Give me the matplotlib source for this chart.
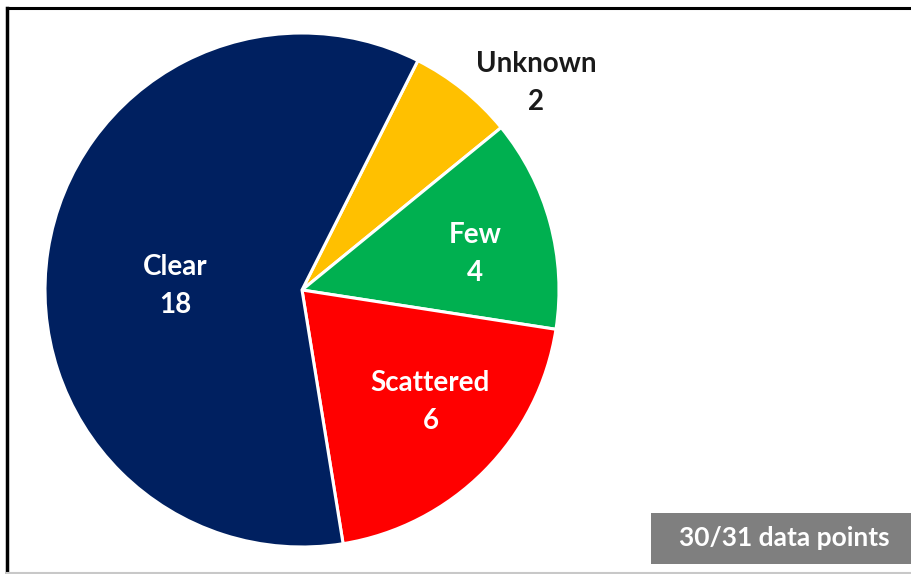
import numpy as np
import matplotlib
matplotlib.use('Agg')
import matplotlib.pyplot as plt
from matplotlib.patches import Rectangle
from matplotlib.lines import Line2D

plt.rcParams['font.family'] = ['Lato', 'DejaVu Sans']

# sky condition counts
categories = ['Unknown', 'Few', 'Scattered', 'Clear']
counts = [2, 4, 6, 18]
colors = ['#ffc000', '#00b050', '#ff0000', '#002060']
text_colors = ['#1a1a1a', 'white', 'white', 'white']
label_radius = [1.22, 0.69, 0.66, 0.495]
label_shift = [-9.5, -3, 4, 6.5]  # degrees, nudges each label off the wedge middle

fig = plt.figure(figsize=(9.12, 5.74), dpi=100)
ax = fig.add_axes([45 / 912, 27 / 574, 514 / 912, 514 / 574])

wedges, _ = ax.pie(counts, colors=colors, startangle=63.2, counterclock=False,
                   radius=1.0, wedgeprops=dict(edgecolor='white', linewidth=2.2))
ax.set_xlim(-1, 1)
ax.set_ylim(-1, 1)
ax.set_aspect('equal')
ax.axis('off')

for w, name, n, tc, r, sh in zip(wedges, categories, counts, text_colors,
                                 label_radius, label_shift):
    mid = np.deg2rad((w.theta1 + w.theta2) / 2 + sh)
    x, y = r * np.cos(mid), r * np.sin(mid)
    ax.text(x, y + 0.037, name, ha='center', va='baseline', color=tc,
            fontsize=20, fontweight='bold')
    ax.text(x, y - 0.111, str(n), ha='center', va='baseline', color=tc,
            fontsize=20, fontweight='bold')

# grey badge in the lower right
fig.patches.append(Rectangle((651 / 912, 10 / 574), 261 / 912, 51 / 574,
                             transform=fig.transFigure, facecolor='#7f7f7f',
                             edgecolor='none'))
fig.text(784 / 912, 36 / 574, '30/31 data points', ha='center', va='center',
         color='white', fontsize=19, fontweight='bold')

# frame around the chart
fig.lines.append(Line2D([7 / 912, 1], [566 / 574, 566 / 574], transform=fig.transFigure,
                        color='black', linewidth=2.2))
fig.lines.append(Line2D([7 / 912, 7 / 912], [2 / 574, 566 / 574], transform=fig.transFigure,
                        color='black', linewidth=2.5))
fig.lines.append(Line2D([7 / 912, 1], [1.5 / 574, 1.5 / 574], transform=fig.transFigure,
                        color='#c8c8c8', linewidth=1.5))

fig.savefig('out.png', dpi=100)
